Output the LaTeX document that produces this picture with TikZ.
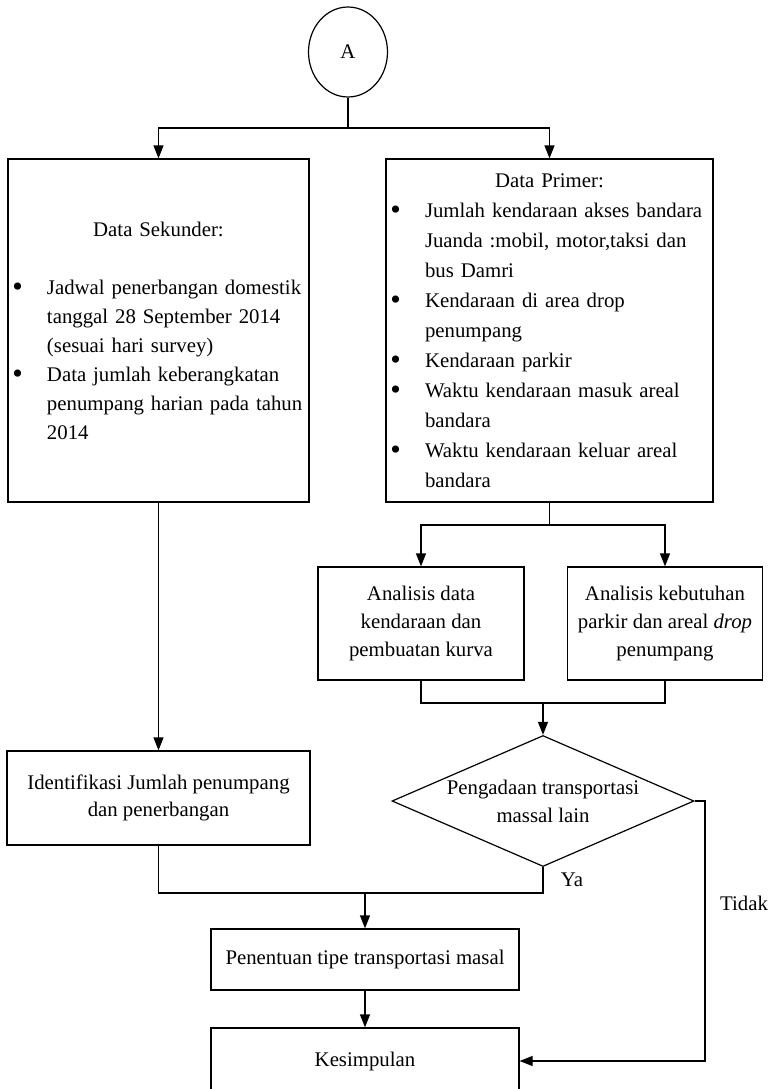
\documentclass[tikz,border=0pt]{standalone}
\usepackage{fontspec}
\setmainfont{Liberation Serif}
\usetikzlibrary{shapes,arrows.meta}

% list with big bullets for the data boxes
\newcommand{\bigbul}{\raisebox{-0.2ex}{\fontsize{15}{15}\selectfont\textbullet}}
\newenvironment{bulletlist}{\list{\bigbul}{\leftmargin=19.5pt \labelsep=12pt \labelwidth=7pt
  \itemsep=0pt \parsep=0pt \topsep=0pt \partopsep=0pt}}{\endlist}

\begin{document}
\begin{tikzpicture}[x=0.5pt, y=-0.5pt, line width=0.6pt,
      font=\fontsize{10.4}{15}\selectfont,
      box/.style={draw, align=center, inner sep=0pt},
      arr/.style={-{Triangle[length=6.5pt, width=5pt]}}]
      \useasboundingbox (0,0) rectangle (769,1089);
      \node (a) [draw, ellipse, minimum width=39.5pt, minimum height=45pt, inner sep=0pt] at (348,52) {A};
      \node (sek) [box, align=left, text width=150.5pt, minimum height=171.5pt] at (158.5,330.5)
            {\fontsize{10.4}{14.5}\selectfont
             {\centering Data Sekunder:\par}
             \vspace{14.5pt}
             \begin{bulletlist}
             \item Jadwal penerbangan domestik\\ tanggal 28 September 2014\\ (sesuai hari survey)
             \item Data jumlah keberangkatan\\ penumpang harian pada tahun\\ 2014
             \end{bulletlist}};
      \node (pri) [box, align=left, text width=163.5pt, minimum height=171.5pt] at (549.5,330.5)
            {{\centering Data Primer:\par}
             \begin{bulletlist}
             \item Jumlah kendaraan akses bandara\\ Juanda :mobil, motor,taksi dan\\ bus Damri
             \item Kendaraan di area drop\\ penumpang
             \item Kendaraan parkir
             \item Waktu kendaraan masuk areal\\ bandara
             \item Waktu kendaraan keluar areal\\ bandara
             \end{bulletlist}};
      \node (an1) [box, font=\fontsize{10.4}{14}\selectfont, minimum width=103pt, minimum height=56.5pt] at (421,623.5)
            {Analisis data\\ kendaraan dan\\ pembuatan kurva};
      \node (an2) [box, font=\fontsize{10.4}{14}\selectfont, minimum width=97.5pt, minimum height=56.5pt] at (665,623.5)
            {Analisis kebutuhan\\ parkir dan areal \emph{drop}\\ penumpang};
      \node (dec) [draw, diamond, minimum width=151pt, minimum height=65.5pt, inner sep=0pt] at (543,801) {};
      \node (dectext) [align=center, font=\fontsize{10.4}{14}\selectfont] at (dec.center) {Pengadaan transportasi\\ massal lain};
      \node (iden) [box, font=\fontsize{10.4}{13.5}\selectfont, minimum width=151.5pt, minimum height=47pt] at (158.5,798)
            {Identifikasi Jumlah penumpang\\ dan penerbangan};
      \node (pen) [box, minimum width=154pt, minimum height=30.5pt] at (365,959.5) {Penentuan tipe transportasi masal};
      \node (kes) [box, minimum width=154pt, minimum height=33pt] at (365,1061) {Kesimpulan};
      \node (ya) at (572,880) {Ya};
      \node (tidak) at (744,903) {Tidak};

      \coordinate (split) at (348,128);
      \coordinate (psplit) at (pri.south |- 0,525);
      \coordinate (asplit) at (543,703);
      \coordinate (join) at (365,893);
      \coordinate (tcorner) at (705,801);

      \draw (a) -- (split);
      \draw[arr] (split) -| (sek);
      \draw[arr] (split) -| (pri);
      \draw (pri) -- (psplit);
      \draw[arr] (psplit) -| (an1);
      \draw[arr] (psplit) -| (an2);
      \draw (an1) |- (asplit) -| (an2);
      \draw[arr] (asplit) -- (dec);
      \draw[arr] (sek) -- (iden);
      \draw (iden) |- (join) -| (dec);
      \draw[arr] (join) -- (pen);
      \draw[arr] (pen) -- (kes);
      \draw[arr] (dec.east) -- (tcorner) |- (kes);
\end{tikzpicture}
\end{document}
